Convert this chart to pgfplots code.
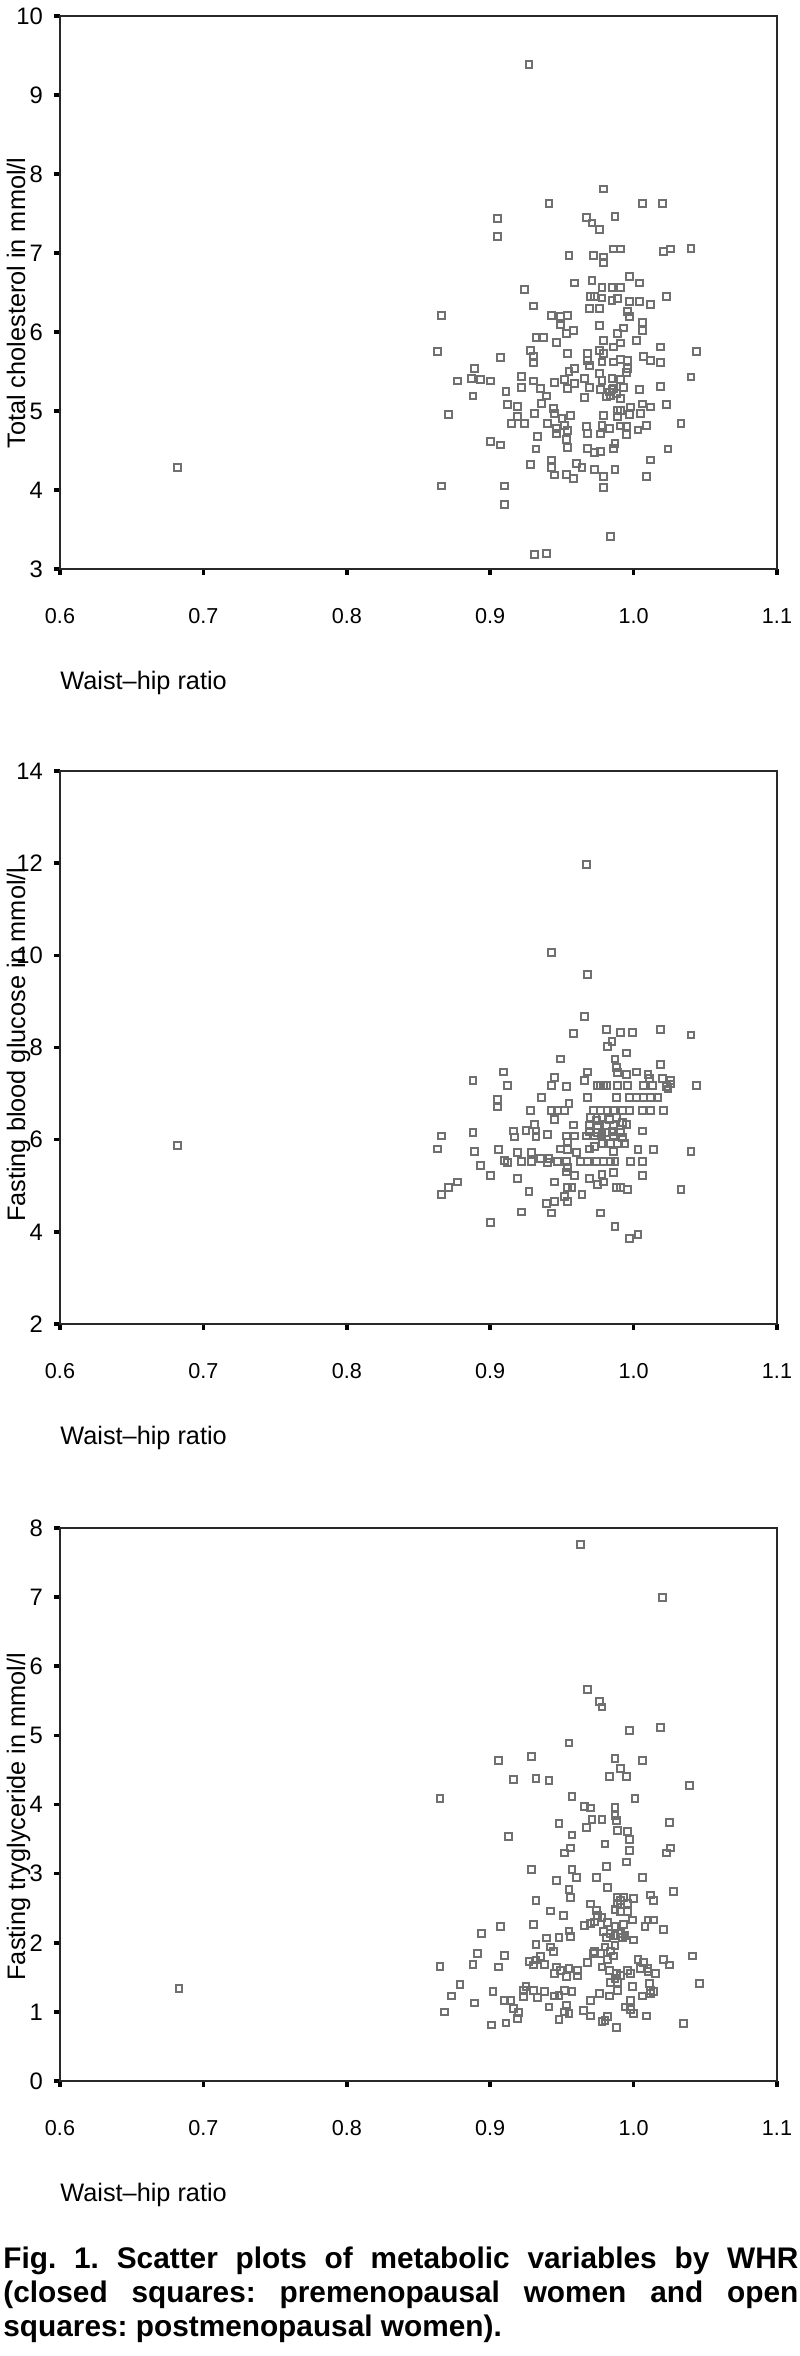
\documentclass[border=0pt]{standalone}
\usepackage{fontspec}
\setmainfont{Liberation Sans}
\usepackage{pgfplots}
\pgfplotsset{compat=1.18}
\definecolor{markgray}{HTML}{707070}
\definecolor{framegray}{HTML}{282828}

\pgfplotsset{
  whr/.style={
    scale only axis, width=358.5pt, height=276.5pt,
    anchor=south west,
    xmin=0.6, xmax=1.1,
    xtick={0.6,0.7,0.8,0.9,1.0,1.1},
    xticklabels={0.6,0.7,0.8,0.9,1.0,1.1},
    tick align=outside, xtick pos=bottom, ytick pos=left,
    major tick length=2.8pt,
    tick style={black, line width=1.8pt},
    axis line style={line width=1.2pt, draw=framegray},
    /pgf/number format/assume math mode=true,
    xticklabel style={font=\fontsize{10.8}{12}\selectfont, anchor=base, yshift=-24.5pt},
    yticklabel style={font=\fontsize{11.9}{13}\selectfont, anchor=east, xshift=-2.2pt},
    xlabel={Waist--hip ratio},
    xlabel style={at={(axis description cs:0,0)}, anchor=base west, inner xsep=0pt,
      yshift=-60pt, font=\fontsize{12.65}{14}\selectfont},
    ylabel style={font=\fontsize{12.65}{14}\selectfont, anchor=base},
  },
  sq/.style={only marks, mark=square, mark size=1.7pt, color=markgray,
    mark options={line width=1pt, draw=markgray, fill=none}},
}

\begin{document}
\frenchspacing
\begin{tikzpicture}
\useasboundingbox (0,0) rectangle (399.5pt,-1178pt);

% total cholesterol
\begin{axis}[whr, at={(30pt,-284.5pt)},
  ymin=3, ymax=10, ytick={3,4,...,10},
  ylabel={Total cholesterol in mmol/l},
  ylabel style={at={(axis description cs:-0.0488,0.481)}}]
\addplot[sq] table {
x y
0.682 4.28
0.927 9.39
0.979 7.81
0.941 7.63
1.006 7.63
1.020 7.63
0.905 7.44
0.905 7.21
0.967 7.45
0.971 7.38
0.976 7.30
0.987 7.46
0.955 6.97
0.972 6.97
0.979 6.95
0.979 6.88
0.986 7.05
0.991 7.05
1.021 7.02
1.026 7.05
1.040 7.06
0.959 6.62
0.971 6.65
0.997 6.70
1.004 6.62
0.978 6.56
0.985 6.56
0.991 6.56
0.924 6.54
0.970 6.45
0.973 6.45
0.978 6.43
0.985 6.40
0.989 6.42
0.997 6.39
1.004 6.39
1.012 6.35
1.023 6.45
0.930 6.33
0.969 6.30
0.976 6.30
0.996 6.26
0.997 6.20
0.866 6.21
0.943 6.21
0.949 6.20
0.954 6.21
0.949 6.09
0.958 6.02
0.953 5.98
0.976 6.08
0.993 6.05
1.006 6.12
1.006 6.02
0.932 5.93
0.937 5.93
0.946 5.87
0.989 5.98
0.991 5.86
0.979 5.89
0.986 5.81
1.002 5.89
1.019 5.81
0.863 5.75
1.044 5.75
0.928 5.77
0.930 5.69
0.930 5.61
0.907 5.68
0.954 5.73
0.968 5.73
0.976 5.77
0.979 5.73
0.968 5.64
0.969 5.58
0.978 5.62
0.986 5.62
0.991 5.65
0.996 5.64
1.007 5.69
1.012 5.64
1.019 5.61
0.889 5.54
0.877 5.38
0.887 5.41
0.893 5.40
0.900 5.38
0.888 5.19
0.922 5.44
0.922 5.30
0.930 5.38
0.935 5.29
0.939 5.19
0.911 5.25
0.912 5.08
0.919 5.06
0.945 5.36
0.952 5.40
0.955 5.50
0.959 5.54
0.954 5.29
0.959 5.35
0.966 5.41
0.969 5.30
0.966 5.17
0.976 5.47
0.978 5.39
0.977 5.27
0.981 5.18
0.985 5.41
0.991 5.40
0.995 5.49
0.996 5.54
0.985 5.27
0.988 5.22
0.984 5.19
0.991 5.16
0.983 5.24
0.986 5.29
0.993 5.30
1.004 5.27
1.019 5.31
1.040 5.43
0.871 4.96
0.936 5.10
0.931 4.97
0.944 5.03
0.945 4.97
0.919 4.93
0.915 4.84
0.924 4.84
0.940 4.84
0.950 4.91
0.956 4.94
0.946 4.78
0.952 4.82
0.946 4.72
0.954 4.75
0.933 4.68
0.967 4.80
0.968 4.72
0.977 4.71
0.978 4.82
0.979 4.94
0.983 4.78
0.989 5.01
0.989 4.93
0.991 5.01
0.998 5.05
0.997 4.96
1.005 4.97
1.006 5.09
1.012 5.05
1.023 5.08
0.991 4.81
0.995 4.80
0.995 4.70
1.003 4.76
1.009 4.82
1.033 4.84
0.900 4.61
0.907 4.57
0.953 4.64
0.954 4.54
0.932 4.52
0.968 4.53
0.973 4.47
0.977 4.49
0.986 4.53
0.987 4.59
1.024 4.52
1.012 4.38
0.928 4.32
0.943 4.38
0.943 4.29
0.945 4.19
0.953 4.20
0.958 4.15
0.960 4.34
0.964 4.29
0.973 4.26
0.979 4.17
0.979 4.03
0.987 4.26
1.009 4.17
0.866 4.05
0.910 4.05
0.910 3.82
0.984 3.41
0.931 3.18
0.939 3.20
};
\end{axis}

% fasting blood glucose
\begin{axis}[whr, at={(30pt,-662pt)},
  ymin=2, ymax=14, ytick={2,4,...,14},
  ylabel={Fasting blood glucose in mmol/l},
  ylabel style={at={(axis description cs:-0.0488,0.505)}}]
\addplot[sq] table {
x y
0.682 5.88
0.967 11.97
0.943 10.06
0.968 9.58
0.966 8.68
0.958 8.31
0.981 8.39
0.991 8.32
0.999 8.32
1.019 8.39
1.040 8.27
0.985 8.13
0.982 8.03
0.949 7.75
0.987 7.75
0.995 7.88
1.019 7.64
0.909 7.47
0.968 7.47
0.988 7.57
0.989 7.45
0.995 7.42
1.002 7.47
1.010 7.42
1.011 7.33
1.020 7.33
1.026 7.28
0.888 7.28
0.912 7.18
0.945 7.35
0.943 7.18
0.953 7.16
0.966 7.28
0.975 7.18
0.977 7.18
0.979 7.18
0.981 7.18
0.989 7.18
0.996 7.18
1.007 7.18
1.013 7.18
1.023 7.16
1.024 7.10
1.026 7.21
1.044 7.18
0.905 6.88
0.905 6.71
0.936 6.92
0.955 6.79
0.968 6.92
0.988 6.92
0.997 6.92
1.002 6.92
1.007 6.92
1.012 6.92
1.017 6.92
0.928 6.64
0.943 6.64
0.947 6.64
0.952 6.64
0.945 6.43
0.972 6.64
0.977 6.64
0.982 6.64
0.986 6.64
0.992 6.64
0.997 6.64
1.006 6.64
1.012 6.64
1.021 6.64
0.931 6.33
0.932 6.19
0.932 6.07
0.925 6.20
0.916 6.19
0.917 6.06
0.940 6.12
0.958 6.32
0.970 6.48
0.974 6.41
0.978 6.48
0.983 6.44
0.988 6.48
0.992 6.37
0.995 6.33
0.969 6.31
0.975 6.30
0.981 6.30
0.986 6.31
0.969 6.17
0.975 6.15
0.981 6.15
0.985 6.17
0.991 6.15
0.967 6.08
0.973 6.08
0.978 6.12
0.986 6.08
0.992 6.04
1.006 6.19
0.866 6.08
0.888 6.15
0.953 6.08
0.959 6.08
0.954 5.95
0.978 5.92
0.984 5.92
0.989 5.92
0.994 5.92
0.973 5.86
0.969 5.80
0.949 5.80
0.954 5.79
0.863 5.80
0.889 5.75
0.906 5.79
0.919 5.72
0.929 5.72
0.960 5.72
0.986 5.75
1.003 5.79
1.014 5.79
1.040 5.75
0.910 5.54
0.912 5.50
0.922 5.52
0.929 5.52
0.935 5.59
0.940 5.50
0.941 5.59
0.947 5.52
0.953 5.52
0.954 5.39
0.953 5.30
0.963 5.52
0.968 5.52
0.974 5.52
0.979 5.52
0.984 5.52
0.987 5.52
0.998 5.52
1.006 5.52
0.893 5.44
0.900 5.23
0.959 5.23
0.978 5.25
0.986 5.28
1.006 5.23
0.919 5.15
0.945 5.08
0.969 5.15
0.975 5.03
0.979 5.08
0.877 5.08
0.871 4.96
0.866 4.81
0.927 4.88
0.954 4.96
0.957 4.96
0.988 4.96
0.991 4.96
0.996 4.92
1.033 4.92
0.952 4.77
0.954 4.66
0.964 4.81
0.939 4.61
0.945 4.66
0.943 4.41
0.922 4.43
0.977 4.41
0.900 4.21
0.987 4.12
0.997 3.85
1.003 3.95
};
\end{axis}

% fasting tryglyceride
\begin{axis}[whr, at={(30pt,-1040.5pt)},
  ymin=0, ymax=8, ytick={0,1,...,8},
  ylabel={Fasting tryglyceride in mmol/l},
  ylabel style={at={(axis description cs:-0.0488,0.478)}}]
\addplot[sq] table {
x y
0.683 1.34
0.963 7.76
1.020 6.99
0.968 5.67
0.976 5.49
0.978 5.41
0.997 5.07
1.019 5.12
0.955 4.89
0.906 4.64
0.929 4.70
0.987 4.67
1.006 4.64
0.991 4.52
0.983 4.40
0.995 4.40
0.916 4.36
0.932 4.38
0.941 4.35
1.039 4.27
0.865 4.09
0.957 4.12
1.001 4.09
0.966 3.97
0.970 3.95
0.987 3.96
0.948 3.72
0.967 3.67
0.971 3.78
0.978 3.78
0.987 3.84
0.988 3.77
1.025 3.74
0.913 3.54
0.957 3.56
0.989 3.62
0.996 3.61
0.997 3.49
0.980 3.43
0.956 3.37
0.952 3.30
0.997 3.33
1.023 3.30
1.026 3.37
0.981 3.10
0.995 3.17
0.929 3.06
0.957 3.06
0.960 2.95
0.974 2.95
1.006 2.95
0.946 2.90
0.982 2.80
0.955 2.77
0.956 2.66
1.028 2.74
1.012 2.69
1.014 2.61
0.932 2.61
0.989 2.66
0.993 2.66
0.991 2.61
1.000 2.64
0.996 2.57
0.970 2.56
0.974 2.47
0.989 2.57
0.987 2.48
0.942 2.46
0.951 2.40
0.991 2.45
0.996 2.45
0.975 2.40
0.978 2.36
0.970 2.28
0.966 2.25
0.973 2.30
0.982 2.29
0.987 2.23
0.993 2.27
0.999 2.33
1.010 2.33
1.014 2.33
1.008 2.23
1.021 2.19
0.907 2.24
0.930 2.27
0.894 2.13
0.955 2.17
0.956 2.09
0.948 2.08
0.939 2.07
0.979 2.16
0.984 2.13
0.981 2.08
0.987 2.11
0.991 2.13
0.992 2.08
0.994 2.11
0.932 1.97
0.942 1.94
0.944 1.87
1.000 2.04
0.987 1.96
0.980 1.94
0.984 1.88
0.973 1.87
0.977 1.84
0.972 1.85
0.986 1.81
0.982 1.76
0.891 1.84
0.910 1.82
0.927 1.73
0.932 1.75
0.935 1.80
0.930 1.68
0.938 1.69
0.968 1.71
1.003 1.76
1.007 1.72
1.010 1.63
1.021 1.76
1.025 1.68
1.041 1.81
0.865 1.66
0.888 1.69
0.906 1.65
0.946 1.65
0.949 1.60
0.955 1.63
0.961 1.60
0.945 1.56
0.953 1.51
0.961 1.52
0.978 1.65
0.983 1.60
0.988 1.55
0.987 1.48
0.991 1.53
0.996 1.60
0.998 1.55
1.005 1.63
1.010 1.58
1.015 1.56
0.984 1.43
0.989 1.42
0.999 1.37
1.011 1.41
1.046 1.41
0.879 1.40
0.925 1.37
0.923 1.31
0.976 1.27
0.989 1.31
0.952 1.31
0.957 1.30
0.930 1.31
0.938 1.29
0.902 1.29
1.012 1.31
1.014 1.30
1.012 1.27
0.873 1.23
0.923 1.22
0.933 1.21
0.945 1.23
0.948 1.24
0.983 1.23
1.006 1.23
0.910 1.16
0.914 1.16
0.970 1.17
0.998 1.16
0.889 1.13
0.916 1.05
0.941 1.07
0.953 1.10
0.952 1.00
0.994 1.07
0.998 1.03
1.000 0.98
0.965 1.02
0.868 1.00
0.920 0.99
0.919 0.91
0.955 0.98
0.970 0.94
0.982 0.93
0.980 0.88
1.009 0.94
0.948 0.89
0.911 0.84
0.901 0.81
0.978 0.86
0.988 0.78
1.035 0.83
};
\end{axis}

\begin{scope}[font=\fontsize{14.9}{17}\selectfont\bfseries]
\node[anchor=base west, inner sep=0pt] at (1.5pt,-1134pt)
  {\makebox[397.5pt][s]{Fig. 1. Scatter plots of metabolic variables by WHR}};
\node[anchor=base west, inner sep=0pt] at (1.5pt,-1151pt)
  {\makebox[397.5pt][s]{(closed squares: premenopausal women and open}};
\node[anchor=base west, inner sep=0pt] at (1.5pt,-1168pt)
  {squares: postmenopausal women).};
\end{scope}
\end{tikzpicture}
\end{document}
